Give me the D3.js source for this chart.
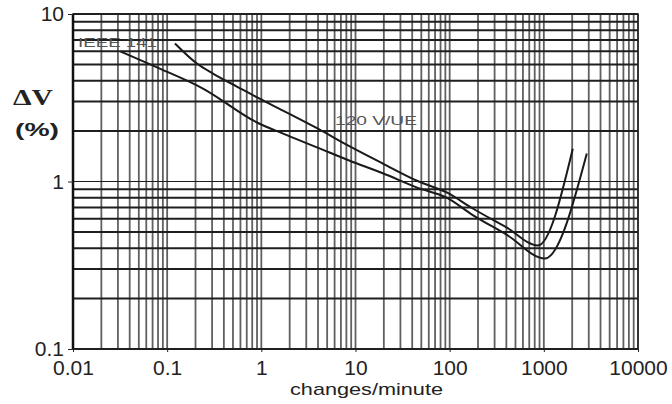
<!DOCTYPE html>
<html>
<head>
<meta charset="utf-8">
<script src="https://cdn.jsdelivr.net/npm/d3@7"></script>
<style>
  body { margin: 0; background: #fff; }
</style>
</head>
<body>
<script>
// values
var xTickLabels = ["0.01", "0.1", "1", "10", "100", "1000", "10000"];
var yTickLabels = ["0.1", "1", "10"];

var ieeeX = [0.032, 0.078, 0.24, 0.9, 1.7, 3.9, 8.7, 19.5, 45, 93, 176, 405, 1025, 2860];
var ieeeY = [5.97, 4.8, 3.59, 2.25, 1.93, 1.6, 1.33, 1.12, 0.92, 0.80, 0.63, 0.48, 0.347, 1.47];

var vueX = [0.121, 0.207, 0.306, 0.55, 0.97, 1.7, 3.9, 8.7, 19.5, 45, 93, 176, 405, 863, 2030];
var vueY = [6.67, 5.06, 4.41, 3.69, 3.11, 2.65, 2.08, 1.62, 1.28, 1.01, 0.86, 0.69, 0.53, 0.415, 1.57];

var seriesNames = ["IEEE 141", "120 V/UE"];

var sans = '"Liberation Sans", Arial, sans-serif';
var serif = '"Liberation Serif", "Times New Roman", serif';

function main(){
	draw();
}

function draw(){
	var W = 672, H = 404;
	var left = 73, right = 638, top = 14, bottom = 349;

	var svg = d3.select('body').append('svg').attr('width', W).attr('height', H)
		.style('font-family', sans);

	var x = d3.scaleLog().domain([0.01, 10000]).range([left, right]);
	var y = d3.scaleLog().domain([0.1, 10]).range([bottom, top]);

	var grid = svg.append('g');

	// vertical grid, every 1..9 of each decade
	grid.selectAll('line.v')
		.data(x.ticks())
		.enter()
		.append('line')
		.attr('class', 'v')
		.attr('x1', function(d){ return x(d); })
		.attr('x2', function(d){ return x(d); })
		.attr('y1', top)
		.attr('y2', bottom)
		.attr('stroke', '#444')
		.attr('stroke-width', 1.8)
		.attr('stroke-opacity', 0.85);

	// horizontal grid
	grid.selectAll('line.h')
		.data(y.ticks())
		.enter()
		.append('line')
		.attr('class', 'h')
		.attr('x1', left)
		.attr('x2', right)
		.attr('y1', function(d){ return y(d); })
		.attr('y2', function(d){ return y(d); })
		.attr('stroke', '#1e1e1e')
		.attr('stroke-width', function(d){ return d === 1 ? 1 : 2; });

	// frame
	svg.append('rect')
		.attr('x', left).attr('y', top)
		.attr('width', right - left).attr('height', bottom - top)
		.attr('fill', 'none')
		.attr('stroke', '#222')
		.attr('stroke-width', 1.5);
	svg.append('line')
		.attr('x1', left).attr('x2', left)
		.attr('y1', top).attr('y2', bottom)
		.attr('stroke', '#111').attr('stroke-width', 2.5);

	// axes (labels only, ticks are tiny)
	var xAxis = d3.axisBottom(x)
		.tickValues(xTickLabels.map(Number))
		.tickFormat(function(d, i){ return xTickLabels[i]; })
		.tickSize(3);
	var gx = svg.append('g').attr('transform', 'translate(0,' + bottom + ')').call(xAxis);
	gx.select('.domain').remove();
	gx.selectAll('line').attr('stroke', '#222');
	gx.selectAll('text')
		.attr('font-size', 21)
		.attr('font-family', null)
		.attr('fill', '#222')
		.attr('dy', '0.95em');

	var yAxis = d3.axisLeft(y)
		.tickValues(yTickLabels.map(Number))
		.tickFormat(function(d, i){ return yTickLabels[i]; })
		.tickSize(5);
	var gy = svg.append('g').attr('transform', 'translate(' + left + ',0)').call(yAxis);
	gy.select('.domain').remove();
	gy.selectAll('line').attr('stroke', '#222');
	gy.selectAll('text')
		.attr('font-size', 21)
		.attr('fill', '#222')
		.attr('x', -9);
	gx.attr('font-family', null);
	gy.attr('font-family', null);

	// curves
	var line = d3.line()
		.x(function(d){ return x(d[0]); })
		.y(function(d){ return y(d[1]); })
		.curve(d3.curveMonotoneX);

	var curves = [d3.zip(ieeeX, ieeeY), d3.zip(vueX, vueY)];
	svg.selectAll('path.curve')
		.data(curves)
		.enter()
		.append('path')
		.attr('class', 'curve')
		.attr('d', line)
		.attr('fill', 'none')
		.attr('stroke', '#1a1a1a')
		.attr('stroke-width', 2);

	// series labels
	svg.append('text')
		.attr('x', 78).attr('y', 47)
		.attr('font-size', 12)
		.attr('textLength', 79).attr('lengthAdjust', 'spacingAndGlyphs')
		.attr('fill', '#555')
		.text(seriesNames[0]);
	svg.append('text')
		.attr('x', 335).attr('y', 125)
		.attr('font-size', 13)
		.attr('textLength', 82).attr('lengthAdjust', 'spacingAndGlyphs')
		.attr('fill', '#555')
		.text(seriesNames[1]);

	// axis titles
	svg.append('text')
		.attr('x', 290).attr('y', 395)
		.attr('font-size', 17)
		.attr('textLength', 153).attr('lengthAdjust', 'spacingAndGlyphs')
		.attr('fill', '#222')
		.text('changes/minute');
	svg.append('text')
		.attr('x', 33).attr('y', 105)
		.attr('text-anchor', 'middle')
		.style('font-family', serif)
		.attr('font-weight', 'bold')
		.attr('font-size', 23)
		.attr('textLength', 40).attr('lengthAdjust', 'spacingAndGlyphs')
		.attr('fill', '#222')
		.text('\u0394V');
	svg.append('text')
		.attr('x', 37).attr('y', 136)
		.attr('text-anchor', 'middle')
		.attr('font-weight', 'bold')
		.attr('font-size', 19)
		.attr('textLength', 44).attr('lengthAdjust', 'spacingAndGlyphs')
		.attr('fill', '#222')
		.text('(%)');
}

main();
</script>
</body>
</html>
